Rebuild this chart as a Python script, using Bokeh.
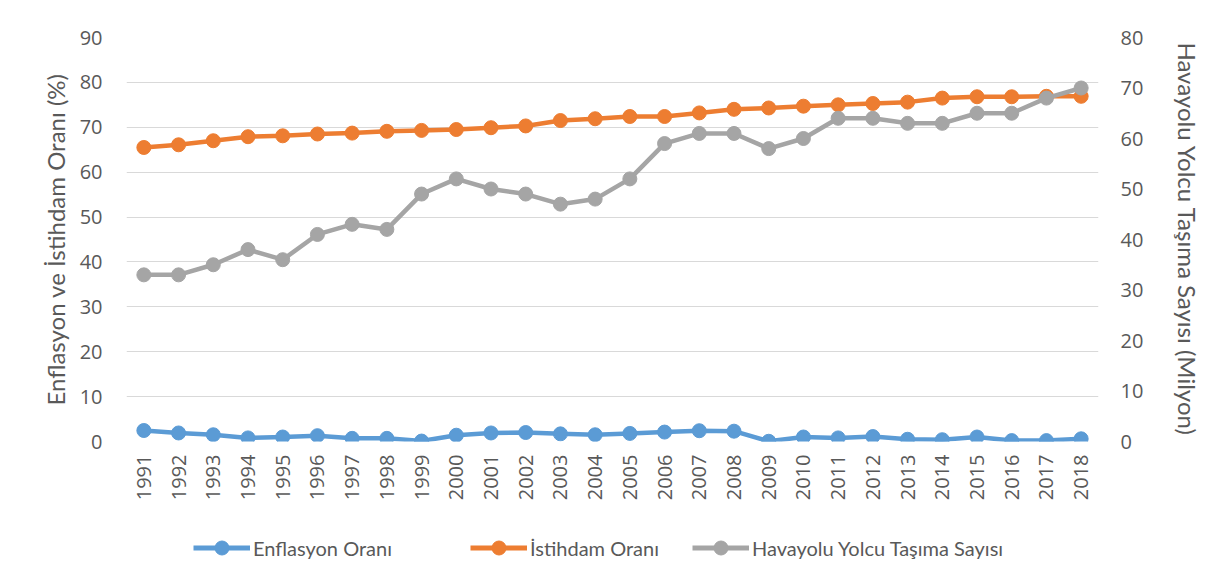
from bokeh.plotting import figure
from bokeh.models import (Range1d, LinearAxis, FixedTicker, Legend, LegendItem,
                          ColumnDataSource)
from bokeh.layouts import column
from bokeh.embed import file_html
from bokeh.resources import INLINE
import math

years = [1991, 1992, 1993, 1994, 1995, 1996, 1997, 1998, 1999, 2000,
         2001, 2002, 2003, 2004, 2005, 2006, 2007, 2008, 2009, 2010,
         2011, 2012, 2013, 2014, 2015, 2016, 2017, 2018]
enflasyon = [2.45, 1.9, 1.5, 0.8, 1.0, 1.3, 0.7, 0.7, 0.1, 1.4,
             1.9, 2.0, 1.7, 1.5, 1.8, 2.1, 2.4, 2.3, 0.05, 1.0,
             0.8, 1.1, 0.5, 0.4, 1.0, 0.2, 0.2, 0.6]
istihdam = [65.5, 66.1, 67.0, 67.9, 68.1, 68.5, 68.7, 69.1, 69.3, 69.5,
            69.9, 70.3, 71.5, 71.9, 72.4, 72.4, 73.2, 74.0, 74.3, 74.7,
            75.0, 75.3, 75.6, 76.5, 76.8, 76.8, 76.9, 76.9]
havayolu = [33, 33, 35, 38, 36, 41, 43, 42, 49, 52,
            50, 49, 47, 48, 52, 59, 61, 61, 58, 60,
            64, 64, 63, 63, 65, 65, 68, 70]
left_ticks = [0, 10, 20, 30, 40, 50, 60, 70, 80, 90]
right_ticks = [0, 10, 20, 30, 40, 50, 60, 70, 80]
series_names = ["Enflasyon Oranı", "İstihdam Oranı", "Havayolu Yolcu Taşıma Sayısı"]

src = ColumnDataSource(dict(x=years, enf=enflasyon, ist=istihdam, hav=havayolu))

TICK_FONT = "Open Sans"
FONT = "Lato"
TXT = "#595959"
BLUE = "#5B9BD5"
ORANGE = "#ED7D31"
GRAY = "#A5A5A5"
LW = 4.5
MS = 14

W = 1216
H_MAIN = 530
H_LEG = 51

p = figure(width=W, height=H_MAIN, output_backend="svg", toolbar_location=None,
           x_range=Range1d(1990.5, 2018.5), y_range=Range1d(0, 90),
           min_border_left=126, min_border_right=118, min_border_top=37,
           min_border_bottom=89)
p.extra_y_ranges = {"right": Range1d(0, 80)}
p.outline_line_color = None

p.xaxis.ticker = FixedTicker(ticks=years)
p.xaxis.major_label_orientation = math.pi / 2
p.xaxis.major_label_standoff = 13
p.yaxis.ticker = FixedTicker(ticks=left_ticks)
p.yaxis.axis_label = "Enflasyon ve İstihdam Oranı (%)"
p.yaxis.axis_label_standoff = 7
p.yaxis.major_label_standoff = 24

ax_r = LinearAxis(y_range_name="right", ticker=FixedTicker(ticks=right_ticks),
                  axis_label="Havayolu Yolcu Taşıma Sayısı (Milyon)")
ax_r.axis_label_standoff = 27
ax_r.major_label_standoff = 22
p.add_layout(ax_r, "right")

for ax in p.axis:
    ax.axis_line_color = None
    ax.major_tick_line_color = None
    ax.minor_tick_line_color = None
    ax.major_tick_out = 0
    ax.major_tick_in = 0
    ax.minor_tick_out = 0
    ax.major_label_text_font = TICK_FONT
    ax.major_label_text_font_size = "20px"
    ax.major_label_text_color = TXT
    ax.axis_label_text_font = FONT
    ax.axis_label_text_font_size = "24px"
    ax.axis_label_text_font_style = "normal"
    ax.axis_label_text_color = TXT

p.xgrid.grid_line_color = None
p.ygrid.grid_line_color = "#D9D9D9"
p.ygrid.grid_line_width = 1

p.line("x", "enf", source=src, line_color=BLUE, line_width=LW)
p.scatter("x", "enf", source=src, size=MS, fill_color=BLUE, line_color=BLUE)
p.line("x", "ist", source=src, line_color=ORANGE, line_width=LW)
p.scatter("x", "ist", source=src, size=MS, fill_color=ORANGE, line_color=ORANGE)
p.line("x", "hav", source=src, line_color=GRAY, line_width=LW, y_range_name="right")
p.scatter("x", "hav", source=src, size=MS, fill_color=GRAY, line_color=GRAY,
          y_range_name="right")

# legend strip below the chart (its frame is aligned with the main frame)
lg = figure(width=W, height=H_LEG, output_backend="svg", toolbar_location=None,
            x_range=Range1d(0, 1), y_range=Range1d(0, 1),
            min_border_left=0, min_border_right=0, min_border_top=0,
            min_border_bottom=0)
lg.axis.visible = False
lg.grid.grid_line_color = None
lg.outline_line_color = None
offscreen = ColumnDataSource(dict(x=[-10], y=[-10]))
legend_x = [67, 344, 566]
for name, col, lx in zip(series_names, [BLUE, ORANGE, GRAY], legend_x):
    r1 = lg.line("x", "y", source=offscreen, line_color=col, line_width=5)
    r2 = lg.scatter("x", "y", source=offscreen, size=MS, fill_color=col, line_color=col)
    leg = Legend(items=[LegendItem(label=name, renderers=[r1, r2])],
                 orientation="horizontal", location=(lx, 16))
    leg.label_text_font = FONT
    leg.label_text_font_size = "20px"
    leg.label_text_color = TXT
    leg.glyph_width = 57
    leg.glyph_height = 35
    leg.label_standoff = 3
    leg.padding = 0
    leg.margin = 0
    leg.border_line_color = None
    leg.background_fill_alpha = 0
    lg.add_layout(leg, "center")

layout = column(p, lg, spacing=0)
open("out.html", "w").write(file_html(layout, INLINE))
